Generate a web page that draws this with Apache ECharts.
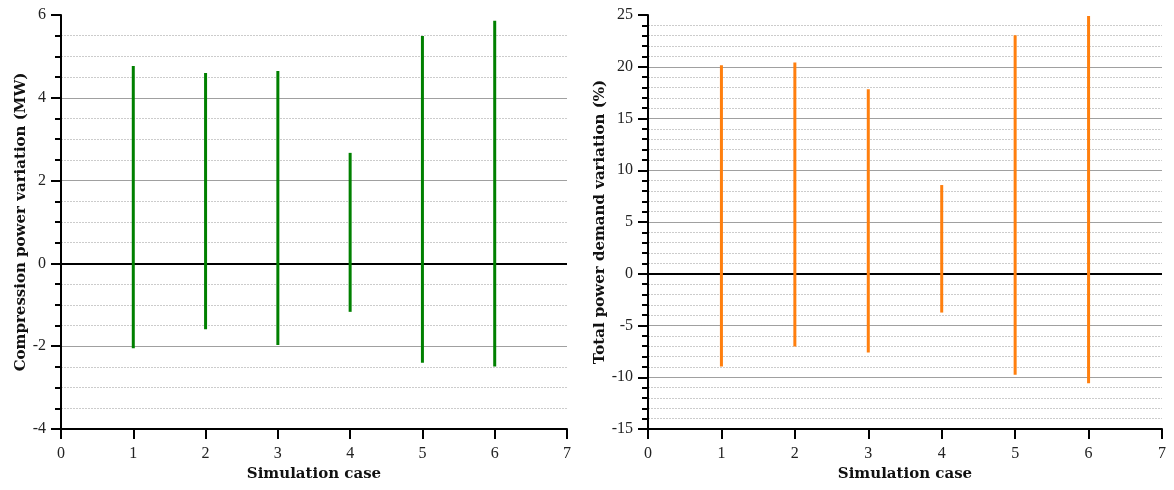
<!DOCTYPE html>
<html>
<head>
<meta charset="utf-8">
<script src="https://cdn.jsdelivr.net/npm/echarts@6/dist/echarts.min.js"></script>
<style>html,body{margin:0;padding:0;background:#fff}#c{width:1174px;height:490px}</style>
</head>
<body>
<div id="c"></div>
<script>
const cases = [1, 2, 3, 4, 5, 6];
const compMin = [-2.05, -1.59, -1.97, -1.17, -2.40, -2.49];
const compMax = [4.77, 4.60, 4.65, 2.67, 5.49, 5.86];
const demandMin = [-8.97, -7.04, -7.62, -3.75, -9.77, -10.58];
const demandMax = [20.15, 20.40, 17.83, 8.57, 23.04, 24.90];
const xLabel = 'Simulation case';
const yLabelLeft = 'Compression power variation (MW)';
const yLabelRight = 'Total power demand variation (%)';

const TICKFONT = 'Liberation Serif';
const NAMEFONT = 'DejaVu Serif';
const chart = echarts.init(document.getElementById('c'), null, {renderer: 'canvas'});

function xAxisCfg(gi) {
  return {
    gridIndex: gi, type: 'value', min: 0, max: 7, interval: 1,
    name: xLabel, nameLocation: 'middle', nameGap: 36,
    nameTextStyle: {fontFamily: NAMEFONT, fontWeight: 'bold', fontSize: 15, color: '#111'},
    axisLine: {show: true, onZero: false, lineStyle: {color: '#000', width: 2}},
    axisTick: {show: true, length: 10, lineStyle: {color: '#000', width: 2}},
    axisLabel: {fontFamily: TICKFONT, fontSize: 16, color: '#222', margin: 17},
    splitLine: {show: false}
  };
}
function yAxisCfg(gi, min, max, interval, minorSplit, name, gap) {
  return {
    gridIndex: gi, type: 'value', min: min, max: max, interval: interval,
    name: name, nameLocation: 'middle', nameGap: gap,
    nameTextStyle: {fontFamily: NAMEFONT, fontWeight: 'bold', fontSize: 15, color: '#111'},
    axisLine: {show: true, onZero: false, lineStyle: {color: '#000', width: 2}},
    axisTick: {show: true, length: 10, lineStyle: {color: '#000', width: 2}},
    minorTick: {show: true, splitNumber: minorSplit, length: 6, lineStyle: {color: '#000', width: 2}},
    axisLabel: {fontFamily: TICKFONT, fontSize: 16, color: '#222', margin: 15},
    splitLine: {show: true, showMaxLine: false, showMinLine: false, lineStyle: {color: '#a0a0a0', width: 1}},
    minorSplitLine: {show: true, lineStyle: {color: '#cccccc', width: 1, type: [2, 1]}}
  };
}
function rangeSeries(gi, mins, maxs, color) {
  return {
    type: 'custom', xAxisIndex: gi, yAxisIndex: gi,
    encode: {x: 0, y: [1, 2]},
    data: cases.map((c, i) => [c, mins[i], maxs[i]]),
    renderItem: function (params, api) {
      const p1 = api.coord([api.value(0), api.value(1)]);
      const p2 = api.coord([api.value(0), api.value(2)]);
      return {type: 'line', shape: {x1: p1[0], y1: p1[1], x2: p2[0], y2: p2[1]},
        style: {stroke: color, lineWidth: 3}};
    },
    markLine: {
      silent: true, symbol: 'none', label: {show: false}, z: 1,
      lineStyle: {color: '#000', width: 2, type: 'solid'},
      data: [{yAxis: 0}]
    },
    z: 5
  };
}

chart.setOption({
  animation: false,
  backgroundColor: '#fff',
  grid: [
    {left: 61, top: 15, width: 506, height: 414},
    {left: 648, top: 15, width: 514, height: 414}
  ],
  xAxis: [xAxisCfg(0), xAxisCfg(1)],
  yAxis: [
    yAxisCfg(0, -4, 6, 2, 4, yLabelLeft, 31),
    yAxisCfg(1, -15, 25, 5, 5, yLabelRight, 40)
  ],
  series: [
    rangeSeries(0, compMin, compMax, '#008000'),
    rangeSeries(1, demandMin, demandMax, '#ff7f0e')
  ]
});
</script>
</body>
</html>
